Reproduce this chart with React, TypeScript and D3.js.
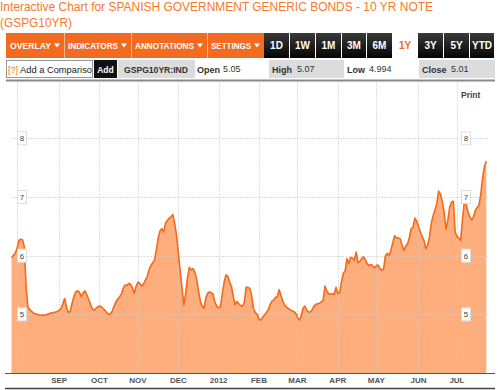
import React from 'react';
import * as d3 from 'd3';

const W = 500;
const H = 390;

// daily closes, one array per month (weekdays only)
const closesJul11 = [5.97, 6.0, 6.04];
const closesAug11 = [6.12, 6.26, 6.28, 6.27, 6.15, 5.45, 5.12, 5.08, 5.05, 5.02, 5.01, 5.0, 4.99, 4.98, 4.99, 4.98, 5.0, 5.0, 5.02, 5.02, 5.03, 5.04, 5.05];
const closesSep11 = [5.07, 5.1, 5.18, 5.27, 5.12, 5.03, 5.05, 5.18, 5.3, 5.38, 5.4, 5.38, 5.3, 5.36, 5.4, 5.34, 5.26, 5.18, 5.1, 5.07, 5.1, 5.13];
const closesOct11 = [5.14, 5.13, 5.1, 5.07, 5.03, 5.0, 5.01, 5.06, 5.14, 5.22, 5.26, 5.3, 5.35, 5.45, 5.5, 5.49, 5.53, 5.51, 5.45, 5.36, 5.48];
const closesNov11 = [5.55, 5.53, 5.48, 5.52, 5.58, 5.64, 5.76, 5.83, 5.88, 5.92, 6.1, 6.3, 6.42, 6.46, 6.4, 6.55, 6.6, 6.64, 6.66, 6.7, 6.55, 6.35];
const closesDec11 = [6.05, 5.75, 5.45, 5.16, 5.35, 5.62, 5.8, 5.76, 5.78, 5.72, 5.6, 5.4, 5.22, 5.14, 5.1, 5.28, 5.36, 5.38, 5.37, 5.34, 5.2, 5.14];
const closesJan12 = [5.11, 5.13, 5.35, 5.55, 5.67, 5.65, 5.55, 5.47, 5.3, 5.16, 5.22, 5.18, 5.15, 5.14, 5.2, 5.46, 5.46, 5.44, 5.32, 5.1, 5.03, 5.0];
const closesFeb12 = [4.92, 4.9, 4.95, 4.99, 5.03, 5.08, 5.16, 5.22, 5.24, 5.29, 5.3, 5.42, 5.32, 5.22, 5.16, 5.12, 5.1, 5.08, 5.06, 5.05, 5.02];
const closesMar12 = [4.95, 4.9, 4.97, 5.1, 5.14, 5.08, 5.04, 5.04, 5.08, 5.14, 5.17, 5.18, 5.19, 5.21, 5.24, 5.48, 5.4, 5.35, 5.34, 5.35, 5.34, 5.46];
const closesApr12 = [5.36, 5.37, 5.55, 5.7, 5.74, 5.95, 5.87, 5.97, 5.96, 5.92, 6.06, 5.88, 5.9, 5.95, 5.98, 5.94, 5.86, 5.83, 5.85, 5.83, 5.79];
const closesMay12 = [5.83, 5.84, 5.78, 5.75, 5.78, 6.0, 6.04, 6.0, 6.1, 6.22, 6.34, 6.31, 6.3, 6.29, 6.18, 6.09, 6.16, 6.2, 6.3, 6.46, 6.48, 6.64, 6.59];
const closesJun12 = [6.5, 6.4, 6.33, 6.26, 6.12, 6.18, 6.32, 6.55, 6.68, 6.78, 6.89, 7.1, 7.05, 6.92, 6.74, 6.45, 6.6, 6.82, 6.91, 6.93, 6.4];
const closesJul12 = [6.33, 6.3, 6.26, 6.62, 6.9, 6.88, 6.75, 6.66, 6.61, 6.66, 6.77, 6.82, 6.86, 7.05, 7.33, 7.52, 7.61];

// one label per month start, Aug 2011 .. Jul 2012
const monthLabels = ['', 'SEP', 'OCT', 'NOV', 'DEC', '2012', 'FEB', 'MAR', 'APR', 'MAY', 'JUN', 'JUL'];
const yTicks = [5, 6, 7, 8];

const menuItems = ['OVERLAY', 'INDICATORS', 'ANNOTATIONS', 'SETTINGS'];
const rangeButtons = ['1D', '1W', '1M', '3M', '6M', '1Y', '3Y', '5Y', 'YTD'];
const activeRange = '1Y';
const quote = { ticker: 'GSPG10YR:IND', open: '5.05', high: '5.07', low: '4.994', close: '5.01' };

const title1 = 'Interactive Chart for SPANISH GOVERNMENT GENERIC BONDS - 10 YR NOTE';
const title2 = '(GSPG10YR)';

const orange = '#f36b21';
const font = "Arial, 'Liberation Sans', sans-serif";

const closes = [
  ...closesJul11, ...closesAug11, ...closesSep11, ...closesOct11, ...closesNov11, ...closesDec11,
  ...closesJan12, ...closesFeb12, ...closesMar12, ...closesApr12, ...closesMay12, ...closesJun12, ...closesJul12,
];

const tradingDays = d3
  .timeDay.range(new Date(2011, 6, 27), new Date(2012, 6, 25))
  .filter((d) => d.getDay() % 6 !== 0);

const n = Math.min(closes.length, tradingDays.length);
const data = d3.range(n).map((i) => ({ i, date: tradingDays[i], v: closes[i] }));

// first trading day of every month
const monthStarts = data.filter((d, k) => k > 0 && d.date.getMonth() !== data[k - 1].date.getMonth());

const plot = { left: 5, right: 495, top: 82, bottom: 373 };

const x = d3.scaleLinear().domain([0, n - 1]).range([11.5, 486.3]);
const y = d3.scaleLinear().domain([4, 9]).range([plot.bottom, plot.bottom - 5 * 58.67]);

const area = d3
  .area<{ i: number; v: number }>()
  .x((d) => x(d.i))
  .y0(plot.bottom)
  .y1((d) => y(d.v));

const line = d3
  .line<{ i: number; v: number }>()
  .x((d) => x(d.i))
  .y((d) => y(d.v));

const menuX = [6, 64, 131, 207, 264];
const rangeX = [264, 290, 316, 342, 367, 393, 418, 444, 470, 495];

const Toolbar = () => (
  <g fontFamily={font} fontWeight="bold">
    <rect x={6} y={33} width={258} height={25} fill={orange} />
    {menuItems.map((m, k) => (
      <g key={m}>
        {k > 0 && <line x1={menuX[k] + 0.5} x2={menuX[k] + 0.5} y1={33} y2={58} stroke="#fbb58c" />}
        <text x={menuX[k] + 4} y={48.5} fill="#fff" fontSize={8.5} textLength={menuX[k + 1] - menuX[k] - 17} lengthAdjust="spacingAndGlyphs">
          {m}
        </text>
        <path d={`M${menuX[k + 1] - 10},43.5 h6 l-3,4 z`} fill="#fff" />
      </g>
    ))}
    <defs>
      <linearGradient id="btn" x1="0" x2="0" y1="0" y2="1">
        <stop offset="0" stopColor="#3a3a3a" />
        <stop offset="1" stopColor="#050505" />
      </linearGradient>
    </defs>
    {rangeButtons.map((b, k) => {
      const x0 = rangeX[k];
      const w = rangeX[k + 1] - x0 - 1;
      const active = b === activeRange;
      return (
        <g key={b}>
          {!active && <rect x={x0} y={33} width={w} height={25} fill="url(#btn)" />}
          <text x={x0 + w / 2} y={49} textAnchor="middle" fontSize={10} fill={active ? orange : '#fff'}>
            {b}
          </text>
        </g>
      );
    })}
    {/* second row */}
    <rect x={6.5} y={60.5} width={86} height={17} fill="#fff" stroke="#999" />
    <text x={8} y={72.5} fontSize={9} fill={orange} fontWeight="normal">[?]</text>
    <text x={20} y={72.5} fontSize={9} fill="#222" fontWeight="normal" textLength={72} lengthAdjust="spacingAndGlyphs">
      Add a Compariso
    </text>
    <rect x={94} y={60} width={23} height={18} fill="#111" />
    <text x={105.5} y={72.5} fontSize={8.5} fill="#fff" textAnchor="middle">Add</text>
    <rect x={118} y={60} width={77} height={18} fill="#dcdcdc" />
    <text x={124} y={72.5} fontSize={9} fill="#333" textLength={64} lengthAdjust="spacingAndGlyphs">{quote.ticker}</text>
    <text x={197} y={73} fontSize={9} fill="#333">Open</text>
    <text x={223} y={72} fontSize={9} fill="#333" fontWeight="normal">{quote.open}</text>
    <rect x={269} y={60} width={75} height={18} fill="#dcdcdc" />
    <text x={272} y={73} fontSize={9} fill="#333">High</text>
    <text x={297} y={72} fontSize={9} fill="#333" fontWeight="normal">{quote.high}</text>
    <text x={347} y={73} fontSize={9} fill="#333">Low</text>
    <text x={369} y={72} fontSize={9} fill="#333" fontWeight="normal">{quote.low}</text>
    <rect x={419} y={60} width={76} height={18} fill="#dcdcdc" />
    <text x={422} y={73} fontSize={9} fill="#333">Close</text>
    <text x={451} y={72} fontSize={9} fill="#333" fontWeight="normal">{quote.close}</text>
    <line x1={6} x2={495} y1={80.5} y2={80.5} stroke="#8a8a8a" strokeWidth={2} />
  </g>
);

const YLabel = ({ cx, v }: { cx: number; v: number }) => (
  <g>
    <rect x={cx - 4.5} y={y(v) - 6.5} width={9} height={13} fill="#fff" stroke="#ddd" />
    <text x={cx} y={y(v) + 3} textAnchor="middle" fontSize={8} fill="#444" fontFamily={font}>
      {v}
    </text>
  </g>
);

export default function App() {
  return (
    <svg width={W} height={H} style={{ position: 'absolute', left: 0, top: 0, background: '#fff' }}>
      <text x={0} y={11} fill="#f57a2e" fontSize={12.5} fontFamily={font} textLength={433} lengthAdjust="spacingAndGlyphs">
        {title1}
      </text>
      <text x={0} y={27} fill="#f57a2e" fontSize={12.5} fontFamily={font} textLength={72} lengthAdjust="spacingAndGlyphs">
        {title2}
      </text>
      <Toolbar />

      <path d={area(data) ?? ''} fill="#fdae7c" />

      {/* grid */}
      <g stroke="#c8c8c8" strokeOpacity={0.6} strokeDasharray="2,1">
        {monthStarts.map((d) => (
          <line key={d.i} x1={Math.round(x(d.i)) + 0.5} x2={Math.round(x(d.i)) + 0.5} y1={plot.top} y2={plot.bottom} />
        ))}
        {yTicks.map((t) => (
          <line key={t} x1={12} x2={489} y1={Math.round(y(t)) + 0.5} y2={Math.round(y(t)) + 0.5} />
        ))}
      </g>

      <path d={line(data) ?? ''} fill="none" stroke="#f26a1a" strokeWidth={1.6} strokeLinejoin="round" />

      {yTicks.map((t) => (
        <g key={t}>
          <YLabel cx={22} v={t} />
          <YLabel cx={466} v={t} />
        </g>
      ))}

      <text x={461} y={98} fontSize={8.5} fontWeight="bold" fill="#444" fontFamily={font}>Print</text>

      {/* x axis */}
      <line x1={plot.left} x2={plot.right} y1={plot.bottom + 0.5} y2={plot.bottom + 0.5} stroke="#555" />
      {monthStarts.map((d, k) => (
        <text key={d.i} x={x(d.i)} y={383} textAnchor="middle" fontSize={8} fontWeight="bold" fill="#555" fontFamily={font}>
          {monthLabels[k]}
        </text>
      ))}
      <line x1={plot.left} x2={plot.right} y1={388.5} y2={388.5} stroke="#444" strokeWidth={1.5} />
    </svg>
  );
}
